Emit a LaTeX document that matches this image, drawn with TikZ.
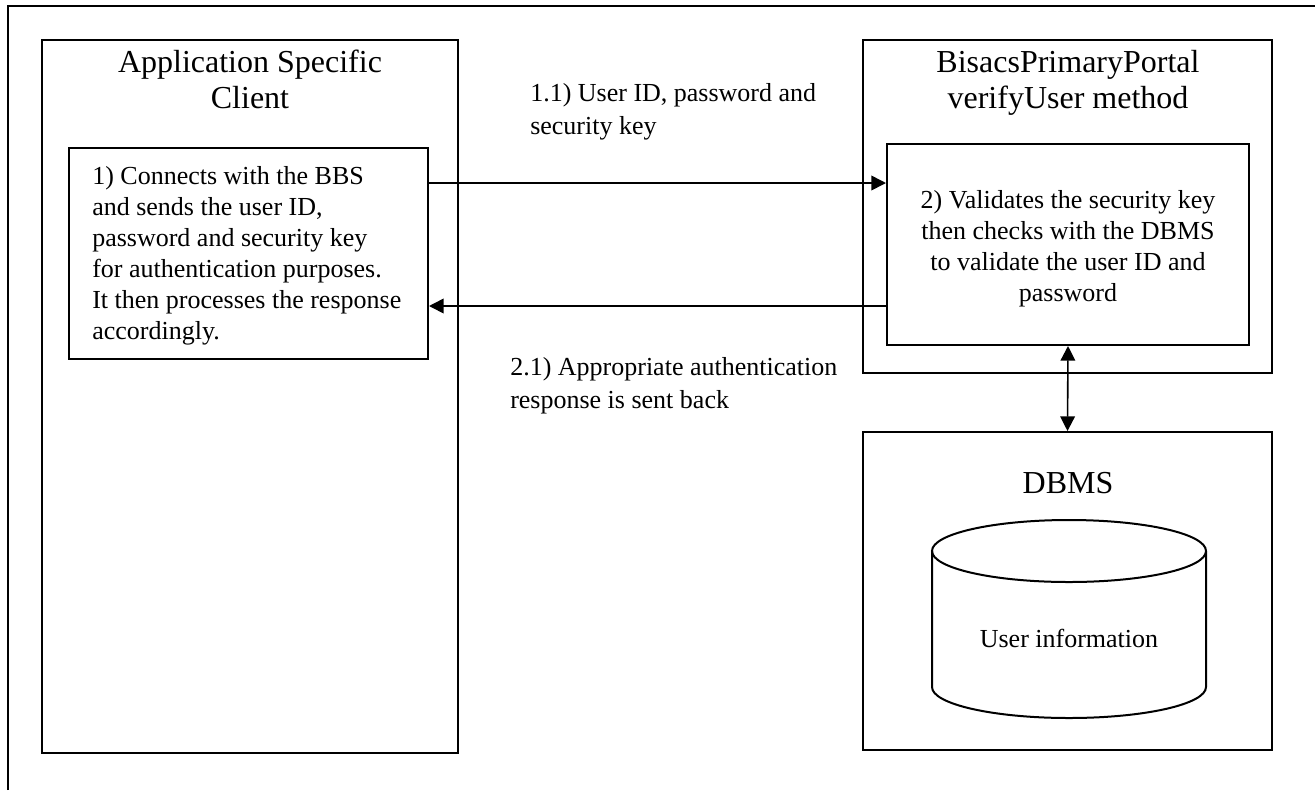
\documentclass[tikz,border=0pt]{standalone}
\usepackage{fontspec}
\setmainfont{Liberation Serif}
\usetikzlibrary{arrows.meta,fit}
\begin{document}
\begin{tikzpicture}[x=0.75pt,y=-0.75pt,
  box/.style={draw, line width=1.5pt, inner sep=0pt},
  arr/.style={line width=1.2pt, -{Triangle[length=11pt,width=11pt]}},
  dblarr/.style={line width=1.2pt, {Triangle[length=11pt,width=11pt]}-{Triangle[length=11pt,width=11pt]}},
  body/.style={font=\fontsize{19.5pt}{23.25pt}\selectfont, inner sep=0pt},
  title/.style={font=\fontsize{24pt}{27pt}\selectfont, inner sep=0pt, align=center},
  lbl/.style={font=\fontsize{19.5pt}{24.75pt}\selectfont, inner sep=0pt, align=left}]
\useasboundingbox (0,0) rectangle (1315,790);
\draw[line width=1.2pt] (8,790) -- (8,6) -- (1315,6);
% boxes
\node[box, fit={(42,40)(458,753)}] (client) {};
\node[box, fit={(69,148)(428,359)}] (cin) {};
\node[box, fit={(863,40)(1272,373)}] (portal) {};
\node[box, fit={(887,144)(1249,345)}] (pin) {};
\node[box, fit={(863,432)(1272,750)}] (db) {};
% titles
\node[title, anchor=north] (ctitle) at (250,50) {Application Specific\\Client};
\node[title, anchor=north] (ptitle) at (1068,50) {BisacsPrimaryPortal\\verifyUser method};
\node[title] (dbtitle) at (1068,483) {DBMS};
% texts
\node[body, align=left, anchor=north west] (ctext) at (92,166) {1) Connects with the BBS\\and sends the user ID,\\password and security key\\for authentication purposes.\\It then processes the response\\accordingly.};
\node[body, align=center, anchor=north] (ptext) at (1068,190) {2) Validates the security key\\then checks with the DBMS\\to validate the user ID and\\password};
% cylinder
\draw[line width=1.5pt] (932,551) -- (932,687) arc[start angle=180, end angle=360, x radius=102.75pt, y radius=23.25pt] -- (1206,551);
\draw[line width=1.5pt] (1069,551) ellipse [x radius=102.75pt, y radius=23.25pt];
\node[body] (uinfo) at (1069,638) {User information};
% connectors
\draw[arr] (cin.east |- 0,183) -- (pin.west |- 0,183);
\draw[arr] (pin.west |- 0,306) -- (cin.east |- 0,306);
\draw[dblarr] (pin.south) -- (db.north);
% labels
\node[lbl, anchor=north west] (l1) at (530,83) {1.1) User ID, password and\\security key};
\node[lbl, anchor=north west] (l2) at (510,357) {2.1) Appropriate authentication\\response is sent back};
\end{tikzpicture}
\end{document}
